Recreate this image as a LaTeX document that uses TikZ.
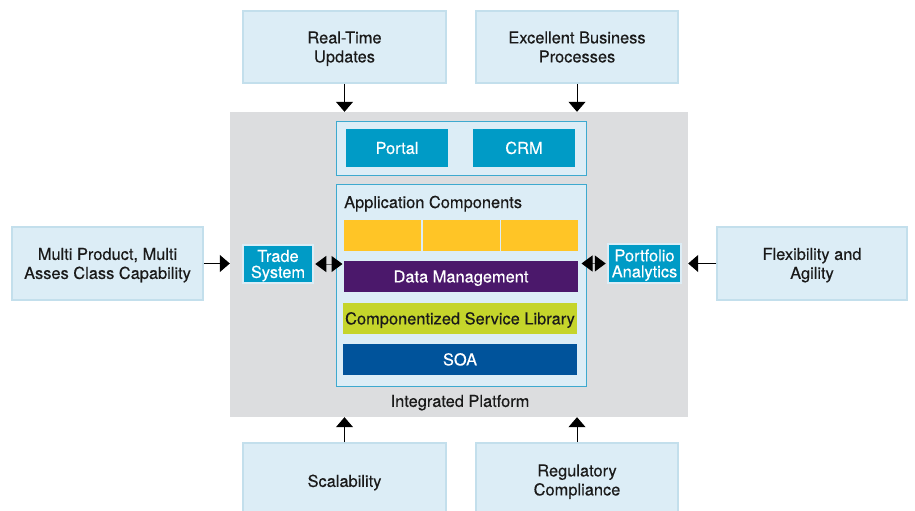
\documentclass[tikz,border=0pt]{standalone}
\usepackage{fontspec}
\setmainfont{TeX Gyre Heros}[FakeBold=0.35]
\usetikzlibrary{arrows.meta}
\definecolor{lightbox}{HTML}{DCEDF6}
\definecolor{lightedge}{HTML}{C3DFEC}
\definecolor{platgray}{HTML}{DCDDDF}
\definecolor{contedge}{HTML}{3DA9CF}
\definecolor{tealblue}{HTML}{009BC6}
\definecolor{sunyellow}{HTML}{FFC526}
\definecolor{dmpurple}{HTML}{4B186B}
\definecolor{limegreen}{HTML}{C5D52B}
\definecolor{soablue}{HTML}{00539B}
\definecolor{txt}{HTML}{1A1A1A}
\begin{document}
\begin{tikzpicture}[x=1pt,y=-1pt,
  font=\fontsize{16.4}{19}\selectfont,
  goalbox/.style={draw=lightedge,line width=1.5pt,fill=lightbox,inner sep=0pt},
  goaltxt/.style={text=txt,align=center,inner sep=0pt,text height=30.8pt,text depth=0pt},
  goalone/.style={text=txt,align=center,inner sep=0pt,text height=11.8pt,text depth=0pt},
  cont/.style={draw=contedge,line width=1pt,fill=lightbox,inner sep=0pt},
  bluebtn/.style={fill=tealblue,text=white,align=center,inner sep=0pt,text height=11.8pt,text depth=0pt},
  sidebtn/.style={fill=tealblue,draw=lightbox,line width=2.5pt,text=white,align=center,inner sep=0pt,font=\fontsize{16.4}{16}\selectfont,text height=27.8pt,text depth=0pt},
  bar/.style={inner sep=0pt,minimum width=234pt,minimum height=31pt,align=center,text height=11.8pt,text depth=0pt},
  inarrow/.style={-{Triangle[width=17pt,length=10pt]},line width=1pt,black},
  duo/.style={{Triangle[width=16pt,length=11pt,color=black]}-{Triangle[width=16pt,length=11pt,color=black]},line width=1pt,black!60}
]
\clip (0,0) rectangle (915,511);
\fill[white] (0,0) rectangle (915,511);
% platform
\node[fill=platgray,inner sep=0pt,minimum width=458pt,minimum height=305pt] (plat) at (459,264.5) {};
% top container
\node[cont,minimum width=250pt,minimum height=54pt] (topc) at (461,148) {};
\node[bluebtn,minimum width=102pt,minimum height=38pt] (portal) at (397,148) {Portal};
\node[bluebtn,minimum width=102pt,minimum height=38pt] (crm) at (524,148) {CRM};
% application box
\node[cont,minimum width=250pt,minimum height=202pt] (app) at (461,285) {};
\node[anchor=base west,text=txt,inner sep=0pt] (applbl) at (344,208) {Application Components};
\node[fill=sunyellow,inner sep=0pt,minimum width=77pt,minimum height=31pt] (y1) at (382.5,235.5) {};
\node[fill=sunyellow,inner sep=0pt,minimum width=77pt,minimum height=31pt] (y2) at (461.5,235.5) {};
\node[fill=sunyellow,inner sep=0pt,minimum width=77pt,minimum height=31pt] (y3) at (539.5,235.5) {};
\node[bar,fill=dmpurple,text=white] (dm) at (461,276.5) {Data Management};
\node[bar,fill=limegreen,text=txt] (csl) at (460,318.5) {Componentized Service Library};
\node[bar,fill=soablue,text=white] (soa) at (460,359.5) {SOA};
\node[goalone] (iplbl) at (460,401) {Integrated Platform};
% side buttons
\node[sidebtn,minimum width=70pt,minimum height=38pt] (trade) at (278,264) {Trade\\System};
\node[sidebtn,minimum width=73pt,minimum height=39pt] (port) at (644.5,263.5) {Portfolio\\Analytics};
% goal boxes
\node[goalbox,minimum width=203pt,minimum height=72pt] (rt) at (344.5,47) {};
\node[goaltxt] (rtt) at (rt.center) {Real-Time\\Updates};
\node[goalbox,minimum width=202pt,minimum height=72pt] (ebp) at (577,47) {};
\node[goaltxt] (ebpt) at (ebp.center) {Excellent Business\\Processes};
\node[goalbox,minimum width=191pt,minimum height=73pt] (mp) at (107.5,263.5) {};
\node[goaltxt] (mpt) at (mp.center) {Multi Product, Multi\\Asses Class Capability};
\node[goalbox,minimum width=190pt,minimum height=73pt] (fa) at (812,263.5) {};
\node[goaltxt] (fat) at (fa.center) {Flexibility and\\Agility};
\node[goalbox,minimum width=203pt,minimum height=76pt] (sc) at (344.5,481) {};
\node[goalone] (sct) at (sc.center) {Scalability};
\node[goalbox,minimum width=202pt,minimum height=76pt] (rc) at (577,481) {};
\node[goaltxt] (rct) at ([yshift=1pt]rc.center) {Regulatory\\Compliance};
% arrows
\draw[inarrow] (rt.south) -- (rt.south |- plat.north);
\draw[inarrow] (ebp.south) -- (ebp.south |- plat.north);
\draw[inarrow] (sc.north) -- (sc.north |- plat.south);
\draw[inarrow] (rc.north) -- (rc.north |- plat.south);
\draw[inarrow] (mp.east) -- (mp.east -| plat.west);
\draw[inarrow] (fa.west) -- (fa.west -| plat.east);
\draw[duo] ([xshift=1pt]trade.east) -- ([xshift=7pt]trade.east -| app.west);
\draw[duo] ([xshift=-1pt]port.west) -- ([xshift=-5pt]port.west -| app.east);
\end{tikzpicture}
\end{document}
